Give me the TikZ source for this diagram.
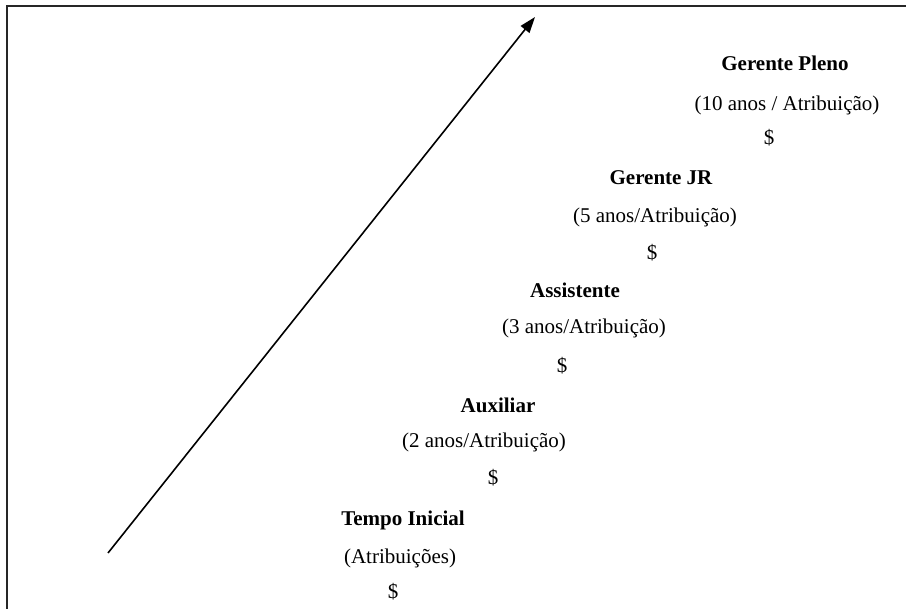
\documentclass[tikz,border=0pt]{standalone}
\usepackage{fontspec}
\setmainfont{Liberation Serif}
\usetikzlibrary{arrows.meta}

\tikzset{
	cargo/.style={anchor=base, inner sep=0pt, font=\fontsize{10.5}{12.5}\selectfont\bfseries},
	prazo/.style={anchor=base, inner sep=0pt, font=\fontsize{10.5}{12.5}\selectfont},
	valor/.style={anchor=base, inner sep=0pt, font=\fontsize{10.5}{12.5}\selectfont},
	moldura/.style={line width=1.1pt, color=black!85},
	seta/.style={line width=0.8pt, -{Triangle[length=8pt,width=5.5pt]}}
}

\begin{document}
\begin{tikzpicture}[x=0.5pt, y=-0.5pt]

	\useasboundingbox (0,0) rectangle (906,609);

	\draw[moldura] (7,609) -- (7,6) -- (906,6);

	\coordinate (inicio) at (108,553);
	\coordinate (topo) at (535,17);
	\draw[seta] (inicio) -- (topo);

	% Tempo Inicial
	\node[cargo] (tempo) at (403,525) {Tempo Inicial};
	\node[prazo] (tempoP) at (400,563) {(Atribuições)};
	\node[valor] (tempoV) at (393,598) {\$};

	% Auxiliar
	\node[cargo] (auxiliar) at (498,413) {Auxiliar};
	\node[prazo] (auxiliarP) at (484,448) {(2 anos/Atribuição)};
	\node[valor] (auxiliarV) at (493,485) {\$};

	% Assistente
	\node[cargo] (assistente) at (575,298) {Assistente};
	\node[prazo] (assistenteP) at (584,334) {(3 anos/Atribuição)};
	\node[valor] (assistenteV) at (562,373) {\$};

	% Gerente JR
	\node[cargo] (gerenteJR) at (661,185) {Gerente JR};
	\node[prazo] (gerenteJRP) at (655,223) {(5 anos/Atribuição)};
	\node[valor] (gerenteJRV) at (652,260) {\$};

	% Gerente Pleno
	\node[cargo] (gerentePleno) at (785,71) {Gerente Pleno};
	\node[prazo] (gerentePlenoP) at (787,111) {(10 anos / Atribuição)};
	\node[valor] (gerentePlenoV) at (769,145) {\$};

\end{tikzpicture}
\end{document}
